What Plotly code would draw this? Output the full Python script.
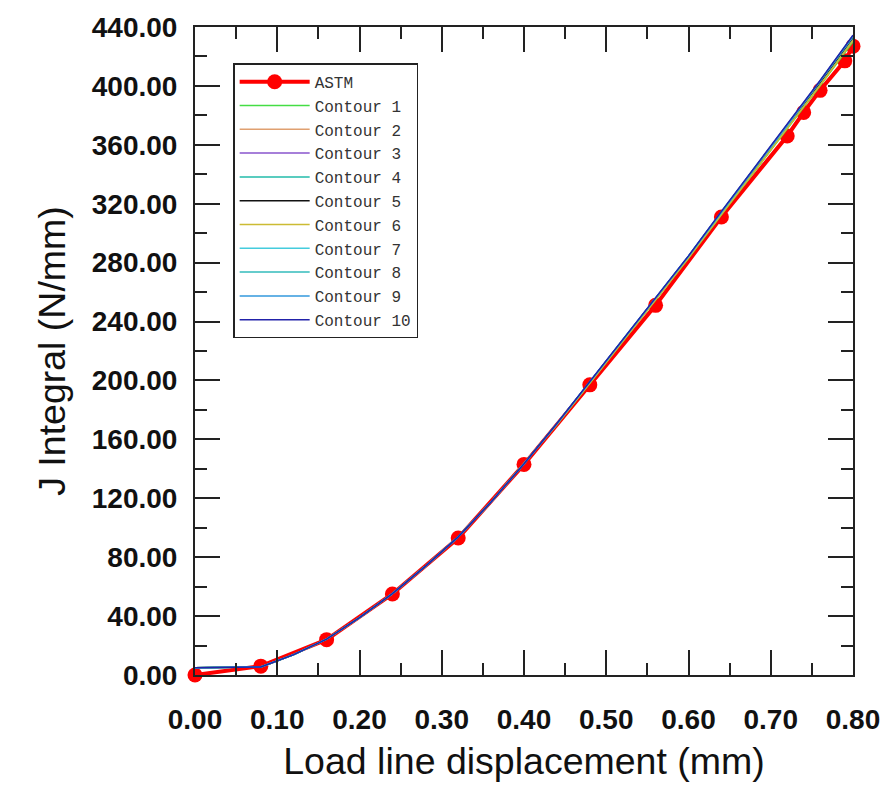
import plotly.graph_objects as go

# ---------------- data ----------------
astm_x = [0.00, 0.08, 0.16, 0.24, 0.32, 0.40, 0.48, 0.56, 0.64, 0.72, 0.74, 0.76, 0.79, 0.80]
astm_y = [0.0, 6.0, 24.0, 55.0, 93.0, 143.0, 197.0, 251.0, 311.0, 366.0, 382.0, 397.0, 417.0, 427.0]

contour_x = [0.00, 0.04, 0.08, 0.12, 0.16, 0.20, 0.24, 0.28, 0.32, 0.36, 0.40,
             0.44, 0.48, 0.52, 0.56, 0.60, 0.64, 0.68, 0.72, 0.76, 0.80]

contour_1 = [5.0, 5.2, 5.5, 13.8, 24.3, 39.0, 55.3, 73.8, 93.8, 117.5, 143.5,
             170.0, 198.0, 226.3, 254.8, 283.0, 312.5, 341.5, 370.5, 400.0, 430.0]
contour_2 = [5.0, 5.2, 5.5, 13.8, 24.3, 39.0, 55.3, 73.8, 93.8, 117.5, 143.5,
             170.3, 198.4, 226.8, 255.3, 283.6, 313.2, 342.6, 371.6, 401.3, 431.6]
contour_3 = [5.0, 5.2, 5.5, 13.8, 24.3, 39.0, 55.3, 73.8, 93.8, 117.5, 143.5,
             170.4, 198.5, 227.0, 255.5, 283.8, 313.5, 343.0, 372.0, 401.8, 432.2]
contour_4 = [5.0, 5.2, 5.5, 13.8, 24.3, 39.0, 55.3, 73.8, 93.8, 117.5, 143.5,
             170.5, 198.6, 227.1, 255.7, 284.0, 313.8, 343.3, 372.4, 402.2, 432.7]
contour_5 = [5.0, 5.2, 5.5, 13.8, 24.3, 39.0, 55.3, 73.8, 93.8, 117.5, 143.5,
             170.5, 198.7, 227.2, 255.8, 284.1, 314.0, 343.5, 372.6, 402.5, 433.0]
contour_6 = [5.0, 5.2, 5.5, 13.8, 24.3, 39.0, 55.3, 73.8, 93.8, 117.5, 143.5,
             170.1, 198.1, 226.5, 255.0, 283.2, 312.7, 342.0, 371.0, 400.5, 430.8]
contour_7 = [5.0, 5.2, 5.5, 13.8, 24.3, 39.0, 55.3, 73.8, 93.8, 117.5, 143.5,
             170.6, 198.8, 227.3, 255.9, 284.3, 314.2, 343.8, 372.9, 402.9, 433.5]
contour_8 = [5.0, 5.2, 5.5, 13.8, 24.3, 39.0, 55.3, 73.8, 93.8, 117.5, 143.5,
             170.6, 198.9, 227.4, 256.0, 284.4, 314.4, 344.0, 373.1, 403.1, 433.8]
contour_9 = [5.0, 5.2, 5.5, 13.8, 24.3, 39.0, 55.3, 73.8, 93.8, 117.5, 143.5,
             170.7, 199.0, 227.5, 256.1, 284.5, 314.6, 344.2, 373.4, 403.4, 434.2]
contour_10 = [5.0, 5.2, 5.5, 13.8, 24.3, 39.0, 55.3, 73.8, 93.8, 117.5, 143.5,
              170.8, 199.1, 227.6, 256.2, 284.6, 314.8, 344.4, 373.6, 403.7, 434.5]

contour_names = ["Contour 1", "Contour 2", "Contour 3", "Contour 4", "Contour 5",
                 "Contour 6", "Contour 7", "Contour 8", "Contour 9", "Contour 10"]
contour_values = [contour_1, contour_2, contour_3, contour_4, contour_5,
                  contour_6, contour_7, contour_8, contour_9, contour_10]
contour_colors = ["#44dd44", "#e0a070", "#8855cc", "#22bbaa", "#111111",
                  "#ccbb33", "#44ccdd", "#33bbbb", "#3399dd", "#2222aa"]

x_ticks = [0.0, 0.1, 0.2, 0.3, 0.4, 0.5, 0.6, 0.7, 0.8]
y_ticks = [0, 40, 80, 120, 160, 200, 240, 280, 320, 360, 400, 440]

# ---------------- figure ----------------
fig = go.Figure()

fig.add_trace(go.Scatter(
    x=astm_x, y=astm_y, name="ASTM", mode="lines+markers",
    line=dict(color="#ff0000", width=4),
    marker=dict(color="#ff0000", size=15, symbol="circle"),
    cliponaxis=False,
))

for name, vals, col in zip(contour_names, contour_values, contour_colors):
    fig.add_trace(go.Scatter(
        x=contour_x, y=vals, name=name, mode="lines",
        line=dict(color=col, width=1.5),
    ))

axis_common = dict(
    showline=True, linecolor="#222222", linewidth=2, mirror="allticks",
    ticks="inside", ticklen=25, tickwidth=2, tickcolor="#222222",
    showgrid=False, zeroline=False,
    tickfont=dict(family="Liberation Sans, Arial", size=28, color="#111111", weight="bold"),
    tickformat=".2f",
)

fig.update_xaxes(
    **axis_common,
    range=[0, 0.8], tickvals=x_ticks,
    minor=dict(ticks="inside", ticklen=12, tickwidth=2, tickcolor="#222222", dtick=0.05),
    ticklabelstandoff=18,
    title=dict(text="Load line displacement (mm)",
               font=dict(family="Liberation Sans, Arial", size=37.5, color="#111111"),
               standoff=14),
)
fig.update_yaxes(
    **axis_common,
    range=[0, 440], tickvals=y_ticks,
    minor=dict(ticks="inside", ticklen=12, tickwidth=2, tickcolor="#222222", dtick=20),
    ticklabelstandoff=10,
    title=dict(text="J Integral (N/mm)",
               font=dict(family="Liberation Sans, Arial", size=37.5, color="#111111"),
               standoff=15),
)

fig.update_layout(
    width=895, height=810,
    margin=dict(l=195, r=42, t=22, b=135),
    paper_bgcolor="white", plot_bgcolor="white",
    showlegend=True,
    legend=dict(
        x=0.058, y=0.944, xanchor="left", yanchor="top",
        bgcolor="white", bordercolor="#222222", borderwidth=1.5,
        font=dict(family="Liberation Mono, Courier New, monospace", size=16, color="#333333"),
        itemwidth=70,
        entrywidth=140, entrywidthmode="pixels",
    ),
)

fig.write_html("out.html")
